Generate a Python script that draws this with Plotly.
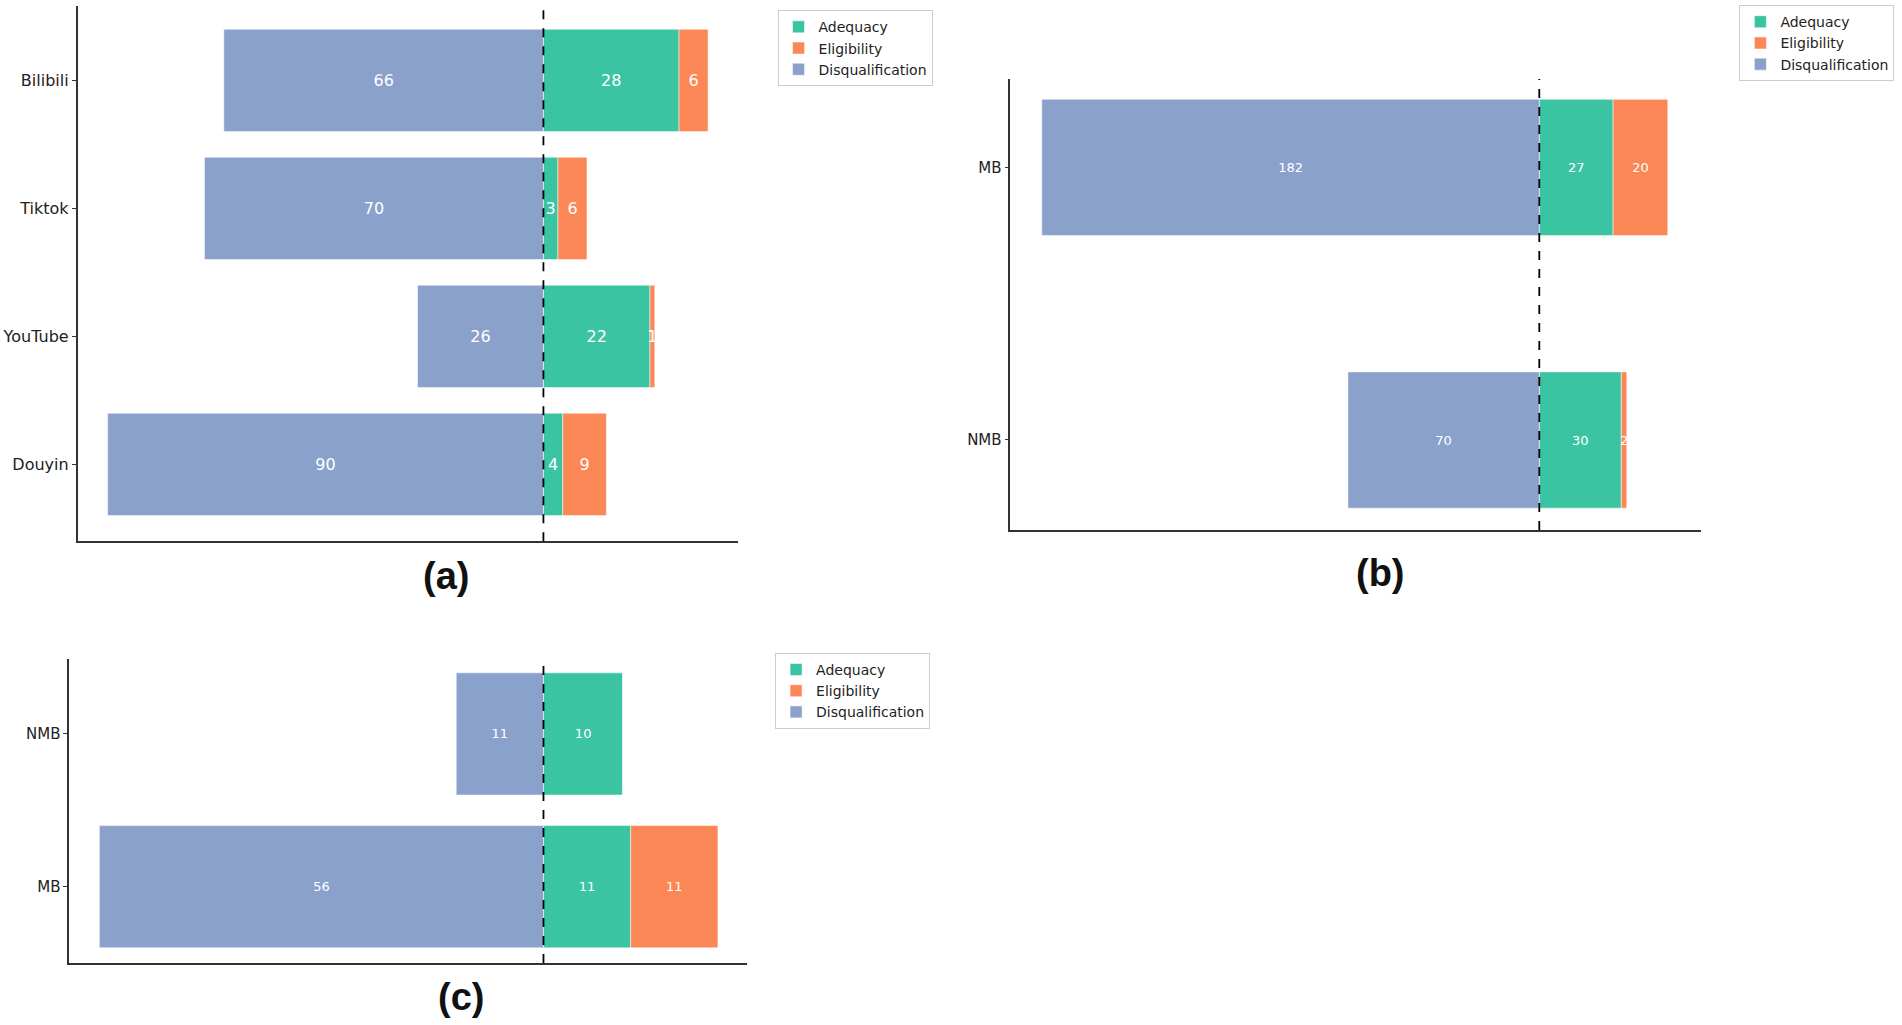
import plotly.graph_objects as go

# panel (a): platforms
platforms = ["Douyin", "YouTube", "Tiktok", "Bilibili"]
a_adequacy = [4, 22, 3, 28]
a_eligibility = [9, 1, 6, 6]
a_disqual = [90, 26, 70, 66]

# panel (b)
b_groups = ["NMB", "MB"]
b_adequacy = [30, 27]
b_eligibility = [2, 20]
b_disqual = [70, 182]

# panel (c)
c_groups = ["MB", "NMB"]
c_adequacy = [11, 10]
c_eligibility = [11, 0]
c_disqual = [56, 11]

TEAL = "#3bc4a1"
ORANGE = "#fc8756"
BLUE = "#8aa1cc"
FONT = "DejaVu Sans"

fig = go.Figure()


def add_panel(n, cats, adeq, elig, disq, width, txt_size):
    xa = "x" if n == 1 else f"x{n}"
    ya = "y" if n == 1 else f"y{n}"
    lg = "legend" if n == 1 else f"legend{n}"
    series = [
        ("Adequacy", adeq, TEAL),
        ("Eligibility", elig, ORANGE),
        ("Disqualification", [-v for v in disq], BLUE),
    ]
    for name, vals, col in series:
        fig.add_trace(go.Bar(
            y=cats, x=vals, orientation="h", name=name,
            marker=dict(color=col, line=dict(color="rgba(255,255,255,0.5)", width=1)),
            width=width,
            text=[str(abs(v)) if v != 0 else "" for v in vals],
            textposition="inside", insidetextanchor="middle",
            textangle=0, constraintext="none",
            textfont=dict(color="white", size=txt_size, family=FONT),
            xaxis=xa, yaxis=ya, legend=lg,
        ))
    # dashed zero line
    fig.add_shape(type="line", xref=xa, yref=f"{ya} domain",
                  x0=0, x1=0, y0=0, y1=1,
                  line=dict(color="black", width=1.8, dash="dash"))


add_panel(1, platforms, a_adequacy, a_eligibility, a_disqual, 0.8, 16)
add_panel(2, b_groups, b_adequacy, b_eligibility, b_disqual, 0.5, 13)
add_panel(3, c_groups, c_adequacy, c_eligibility, c_disqual, 0.8, 13)


def xax(domain, rng, anchor):
    return dict(domain=domain, range=rng, anchor=anchor, showline=True,
                linecolor="#333", linewidth=1.5, showticklabels=False,
                ticks="", showgrid=False, zeroline=False, fixedrange=True)


def yax(domain, rng, anchor, size):
    return dict(domain=domain, range=rng, anchor=anchor, showline=True,
                linecolor="#333", linewidth=1.5, ticks="outside", ticklen=4,
                tickcolor="#333", showgrid=False, zeroline=False,
                tickfont=dict(family=FONT, size=size, color="#222"),
                automargin=False)


legend_style = dict(bgcolor="white", bordercolor="#cccccc", borderwidth=1,
                    font=dict(family=FONT, size=14, color="#222"),
                    xanchor="left", yanchor="top", traceorder="normal",
                    tracegroupgap=0)

label_font = dict(family="Liberation Sans", size=38, color="#111")


def panel_label(txt, x, y):
    return dict(text=f"<b>{txt}</b>", x=x, y=y, xref="paper", yref="paper",
                xanchor="center", yanchor="middle", showarrow=False,
                font=label_font)


fig.update_layout(
    width=1902, height=1025,
    margin=dict(l=0, r=0, t=0, b=0),
    paper_bgcolor="white", plot_bgcolor="white",
    barmode="relative",
    showlegend=True,
    xaxis=xax([0.0408, 0.3878], [-96.2, 40.1], "y"),
    yaxis=yax([0.472, 0.994], [-0.6, 3.58], "x", 16),
    xaxis2=xax([0.5312, 0.8941], [-193.5, 59.0], "y2"),
    yaxis2=yax([0.483, 0.923], [-0.33, 1.325], "x2", 15),
    xaxis3=xax([0.0364, 0.3929], [-59.8, 25.7], "y3"),
    yaxis3=yax([0.0604, 0.357], [-0.5, 1.49], "x3", 15),
    legend=dict(x=0.4088, y=0.990, **legend_style),
    legend2=dict(x=0.9145, y=0.995, **legend_style),
    legend3=dict(x=0.4075, y=0.363, **legend_style),
    annotations=[
        panel_label("(a)", 0.2345, 0.438),
        panel_label("(b)", 0.7257, 0.4413),
        panel_label("(c)", 0.2424, 0.0273),
    ],
)

fig.write_html("out.html", config={"displayModeBar": False},
               post_script="document.body.style.margin='0px';")
